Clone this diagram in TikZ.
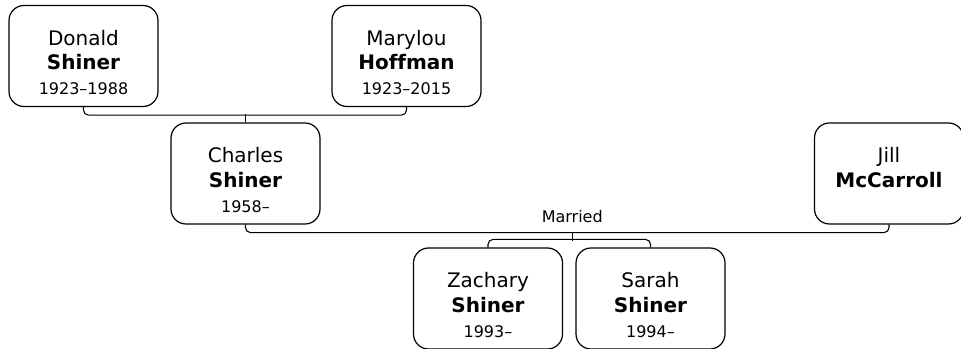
\documentclass[tikz,border=0pt]{standalone}
\usepackage{fontspec}
\setmainfont[Ligatures={TeX,NoCommon}]{DejaVu Sans}
\usepackage{tikz}
\usetikzlibrary{positioning, calc}
\tikzset{
  person/.style={rectangle, draw, rounded corners=15*0.75pt, line width=0.9pt,
                 minimum width=149*0.75pt, minimum height=101*0.75pt,
                 align=center, font=\fontsize{15}{18.5}\selectfont},
  link/.style={line width=0.8pt, rounded corners=5*0.75pt},
}
\newcommand{\years}[1]{{\fontsize{12}{14}\selectfont #1}}
\newcommand{\who}[3]{\rule{0pt}{21pt}#1\\\textbf{#2}\\\years{\vphantom{0}#3}}

\begin{document}
\begin{tikzpicture}[
  x=0.75pt, y=-0.75pt,
  msg/.style={font=\fontsize{12}{14}\selectfont, inner sep=1pt},
  node distance=1pt
]
  \useasboundingbox (0,0) rectangle (961,349);

  % grandparents
  \node[person] (donald)  at (83.5,56)  {\who{Donald}{Shiner}{1923--1988}};
  \node[person] (marylou) at (406.5,56) {\who{Marylou}{Hoffman}{1923--2015}};

  % parents
  \node[person] (charles) at (245.5,173.5) {\who{Charles}{Shiner}{1958--}};
  \node[person] (jill)    at (889,173.5)   {\who{Jill}{McCarroll}{}};

  % children
  \node[person] (zachary) at (488,298.5) {\who{Zachary}{Shiner}{1993--}};
  \node[person] (sarah)   at (650.5,298.5) {\who{Sarah}{Shiner}{1994--}};

  \draw[link] (donald.south) -- ++(0,8) -| (marylou.south);
  \draw[link] (charles.north) -- ++(0,-8);

  \draw[link] (charles.south) -- ++(0,8) -| (jill.south);
  \coordinate (wed) at ($(charles.south)!0.5!(jill.south) + (5,8)$);
  \node[msg, above=6pt of wed] (married) {Married};
  \draw[link] (wed) -- ++(0,8);
  \draw[link] (zachary.north) -- ++(0,-8) -| (sarah.north);
\end{tikzpicture}
\end{document}
